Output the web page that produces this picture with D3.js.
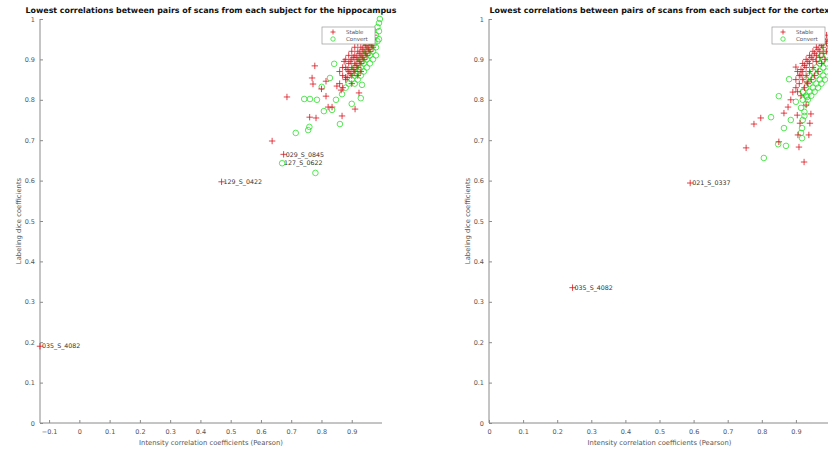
<!DOCTYPE html>
<html>
<head>
<meta charset="utf-8">
<script src="https://cdn.jsdelivr.net/npm/d3@7"></script>
<style>
  body { margin: 0; background: #fff; }
  svg { display: block; font-family: "DejaVu Sans", sans-serif; }
</style>
</head>
<body>
<svg id="fig" width="828" height="450"></svg>
<script>
// # DATA

var yTicks = [0, 0.1, 0.2, 0.3, 0.4, 0.5, 0.6, 0.7, 0.8, 0.9, 1];
var hippoXTicks = [-0.1, 0, 0.1, 0.2, 0.3, 0.4, 0.5, 0.6, 0.7, 0.8, 0.9];
var cortexXTicks = [0, 0.1, 0.2, 0.3, 0.4, 0.5, 0.6, 0.7, 0.8, 0.9];
var legendNames = ["Stable", "Convert"];

// hippocampus: [intensity corr, dice]
var hippoStable = [
  [-0.13, 0.19], [0.47, 0.597], [0.675, 0.665],
  [0.637, 0.698], [0.686, 0.807], [0.778, 0.884], [0.769, 0.854], [0.772, 0.839],
  [0.761, 0.757], [0.782, 0.755], [0.815, 0.846], [0.815, 0.809], [0.822, 0.782],
  [0.865, 0.824], [0.868, 0.76], [0.88, 0.856], [0.911, 0.777], [0.924, 0.817],
  [0.851, 0.834], [0.8, 0.827], [0.835, 0.782],
  [0.87, 0.86], [0.88, 0.88], [0.88, 0.85], [0.89, 0.87], [0.89, 0.89], [0.9, 0.88],
  [0.9, 0.9], [0.9, 0.86], [0.91, 0.89], [0.91, 0.91], [0.91, 0.87], [0.92, 0.9],
  [0.92, 0.92], [0.92, 0.88], [0.93, 0.91], [0.93, 0.93], [0.93, 0.89], [0.94, 0.92],
  [0.94, 0.94], [0.94, 0.9], [0.95, 0.93], [0.95, 0.91], [0.95, 0.95], [0.96, 0.94],
  [0.96, 0.92], [0.97, 0.95], [0.97, 0.93], [0.88, 0.9], [0.89, 0.91], [0.9, 0.92],
  [0.91, 0.93], [0.92, 0.94], [0.93, 0.95], [0.87, 0.88], [0.86, 0.87], [0.875, 0.895],
  [0.885, 0.875], [0.895, 0.895], [0.905, 0.875], [0.915, 0.905], [0.925, 0.915],
  [0.935, 0.925], [0.945, 0.935], [0.955, 0.945], [0.965, 0.935], [0.925, 0.895],
  [0.935, 0.905], [0.945, 0.915], [0.905, 0.905], [0.915, 0.885], [0.895, 0.865],
  [0.885, 0.855], [0.955, 0.925], [0.965, 0.955], [0.975, 0.96], [0.94, 0.96],
  [0.95, 0.97], [0.92, 0.86], [0.93, 0.87], [0.9, 0.84], [0.86, 0.84], [0.87, 0.83]
];
var hippoConvert = [
  [0.67, 0.643], [0.78, 0.619], [0.715, 0.718], [0.756, 0.725], [0.76, 0.733],
  [0.743, 0.802], [0.762, 0.802], [0.785, 0.8], [0.801, 0.832], [0.842, 0.889],
  [0.848, 0.8], [0.835, 0.775], [0.861, 0.74], [0.868, 0.814], [0.9, 0.79],
  [0.93, 0.804], [0.934, 0.837], [0.808, 0.772], [0.828, 0.854], [0.993, 1.0],
  [0.91, 0.86], [0.92, 0.87], [0.93, 0.88], [0.94, 0.89], [0.95, 0.9], [0.96, 0.91],
  [0.97, 0.92], [0.98, 0.93], [0.99, 0.95], [0.98, 0.96], [0.99, 0.97], [0.97, 0.95],
  [0.96, 0.93], [0.95, 0.92], [0.94, 0.91], [0.93, 0.9], [0.92, 0.89], [0.91, 0.88],
  [0.9, 0.87], [0.9, 0.85], [0.92, 0.85], [0.93, 0.86], [0.94, 0.87], [0.95, 0.88],
  [0.96, 0.89], [0.97, 0.9], [0.98, 0.91], [0.975, 0.94], [0.985, 0.945], [0.965, 0.925],
  [0.955, 0.915], [0.945, 0.905], [0.935, 0.895], [0.925, 0.875], [0.915, 0.865],
  [0.985, 0.98], [0.99, 0.99], [0.97, 0.97], [0.96, 0.96], [0.95, 0.94], [0.89, 0.84],
  [0.88, 0.83], [0.91, 0.84]
];
var hippoNames = [
  ["035_S_4082", -0.13, 0.19], ["129_S_0422", 0.47, 0.597],
  ["029_S_0845", 0.675, 0.665], ["127_S_0622", 0.67, 0.643]
];

// cortex
var cortexStable = [
  [0.245, 0.335], [0.59, 0.594],
  [0.754, 0.681], [0.777, 0.74], [0.797, 0.755], [0.85, 0.696], [0.924, 0.646],
  [0.904, 0.762], [0.912, 0.742], [0.938, 0.713], [0.941, 0.742], [0.944, 0.765],
  [0.909, 0.683], [0.906, 0.713], [0.865, 0.767], [0.877, 0.782], [0.885, 0.8],
  [0.9, 0.881], [0.891, 0.819], [0.93, 0.787], [0.933, 0.844], [0.915, 0.861],
  [0.91, 0.86], [0.92, 0.87], [0.92, 0.89], [0.93, 0.88], [0.93, 0.9], [0.94, 0.89],
  [0.94, 0.91], [0.95, 0.9], [0.95, 0.92], [0.96, 0.91], [0.96, 0.93], [0.97, 0.92],
  [0.97, 0.94], [0.98, 0.93], [0.98, 0.95], [0.99, 0.94], [0.99, 0.96], [0.9, 0.85],
  [0.905, 0.87], [0.915, 0.875], [0.925, 0.885], [0.935, 0.895], [0.945, 0.905],
  [0.955, 0.915], [0.965, 0.925], [0.975, 0.935], [0.985, 0.945], [0.9, 0.83],
  [0.91, 0.84], [0.92, 0.85], [0.93, 0.86], [0.94, 0.87], [0.95, 0.88], [0.96, 0.895],
  [0.97, 0.905], [0.98, 0.915], [0.905, 0.82], [0.915, 0.81], [0.925, 0.83],
  [0.935, 0.84], [0.945, 0.85], [0.955, 0.86], [0.965, 0.87], [0.975, 0.89],
  [0.985, 0.9], [0.99, 0.92], [0.995, 0.95]
];
var cortexConvert = [
  [0.806, 0.656], [0.848, 0.69], [0.871, 0.686], [0.865, 0.73], [0.827, 0.757],
  [0.85, 0.809], [0.88, 0.851], [0.885, 0.75], [0.918, 0.73], [0.918, 0.705],
  [0.915, 0.718], [0.921, 0.819], [0.9, 0.795], [0.933, 0.807],
  [0.92, 0.8], [0.93, 0.81], [0.93, 0.83], [0.94, 0.82], [0.94, 0.84], [0.95, 0.83],
  [0.95, 0.85], [0.96, 0.84], [0.96, 0.86], [0.97, 0.85], [0.97, 0.87], [0.98, 0.86],
  [0.98, 0.88], [0.99, 0.87], [0.99, 0.89], [0.925, 0.77], [0.93, 0.79], [0.935, 0.8],
  [0.945, 0.81], [0.955, 0.82], [0.965, 0.83], [0.975, 0.84], [0.985, 0.85],
  [0.95, 0.87], [0.96, 0.88], [0.97, 0.89], [0.98, 0.9], [0.99, 0.91], [0.94, 0.86],
  [0.93, 0.85], [0.92, 0.82], [0.915, 0.78], [0.92, 0.75], [0.925, 0.76], [0.985, 0.93],
  [0.995, 0.94], [0.975, 0.91], [0.965, 0.9]
];
var cortexNames = [
  ["035_S_4082", 0.245, 0.335], ["021_S_0337", 0.59, 0.594]
];

// # LAYOUT
var stableColor = "#d8141e";
var convertColor = "#2fe02f";
var axisColor = "#8a8a8a";
var textColor = "#555";

var svg = d3.select("#fig");

drawPanel({
  left: 40, right: 382, top: 19, bottom: 423,
  xDomain: [-0.13, 1], xTicks: hippoXTicks,
  title: "Lowest correlations between pairs of scans from each subject for the hippocampus",
  stable: hippoStable, convert: hippoConvert, names: hippoNames,
  legendX: 322
});

drawPanel({
  left: 489, right: 830, top: 19, bottom: 423,
  xDomain: [0, 1], xTicks: cortexXTicks,
  title: "Lowest correlations between pairs of scans from each subject for the cortex",
  stable: cortexStable, convert: cortexConvert, names: cortexNames,
  legendX: 772
});

// # FUNCTIONS

function drawPanel(p){
  var x = d3.scaleLinear().domain(p.xDomain).range([p.left, p.right]);
  var y = d3.scaleLinear().domain([0, 1]).range([p.bottom, p.top]);
  var g = svg.append("g");

  // axes (ticks pointing inward, MATLAB style)
  var yAxis = d3.axisLeft(y).tickValues(yTicks).tickSize(-3).tickPadding(5)
    .tickFormat(function(d){ return d3.format("~g")(d); });
  var xAxis = d3.axisBottom(x).tickValues(p.xTicks).tickSize(-3).tickPadding(6)
    .tickFormat(function(d){ return d3.format("~g")(d); });

  var ya = g.append("g").attr("transform", "translate(" + p.left + ",0)").call(yAxis);
  var xa = g.append("g").attr("transform", "translate(0," + p.bottom + ")").call(xAxis);
  [ya, xa].forEach(function(a){
    a.select(".domain").attr("stroke", axisColor);
    a.selectAll(".tick line").attr("stroke", axisColor);
    a.selectAll(".tick text").attr("fill", textColor).attr("font-size", 6.5)
      .attr("font-family", "DejaVu Sans, sans-serif");
  });
  xa.select(".domain").attr("d", "M" + p.left + ",0H" + p.right);
  ya.select(".domain").attr("d", "M0," + p.top + "V" + p.bottom);
  xa.selectAll(".tick text").attr("dy", "0.71em");

  // titles and labels
  var cx = (p.left + p.right) / 2;
  g.append("text").attr("x", cx).attr("y", 13).attr("text-anchor", "middle")
    .attr("font-size", 7.9).attr("font-weight", "bold").attr("fill", "#111")
    .text(p.title);
  g.append("text").attr("x", cx).attr("y", p.bottom + 22).attr("text-anchor", "middle")
    .attr("font-size", 6.8).attr("fill", textColor)
    .text("Intensity correlation coefficients (Pearson)");
  g.append("text")
    .attr("transform", "translate(" + (p.left - 19) + "," + ((p.top + p.bottom) / 2) + ") rotate(-90)")
    .attr("text-anchor", "middle").attr("font-size", 6.8).attr("fill", textColor)
    .text("Labeling dice coefficients");

  // convert: green circles
  g.append("g").selectAll("circle").data(p.convert).join("circle")
    .attr("cx", function(d){ return x(d[0]); })
    .attr("cy", function(d){ return y(d[1]); })
    .attr("r", 2.8)
    .attr("fill", "none")
    .attr("stroke", convertColor)
    .attr("stroke-width", 0.8);

  // stable: red plus
  g.append("g").selectAll("path").data(p.stable).join("path")
    .attr("d", function(d){ return plusPath(x(d[0]), y(d[1]), 3.2); })
    .attr("stroke", stableColor)
    .attr("stroke-width", 0.8)
    .attr("fill", "none");

  // subject labels
  g.append("g").selectAll("text").data(p.names).join("text")
    .attr("x", function(d){ return x(d[1]) + 2; })
    .attr("y", function(d){ return y(d[2]); })
    .attr("dy", "0.35em")
    .attr("font-size", 6.3)
    .attr("fill", "#333")
    .text(function(d){ return d[0]; });

  // legend
  var lg = g.append("g").attr("transform", "translate(" + p.legendX + ",27)");
  lg.append("rect").attr("width", 53).attr("height", 17)
    .attr("fill", "#fff").attr("stroke", "#999").attr("stroke-width", 0.7);
  lg.append("path").attr("d", plusPath(11, 5, 2.5))
    .attr("stroke", stableColor).attr("stroke-width", 0.8);
  lg.append("circle").attr("cx", 11).attr("cy", 12).attr("r", 2.2)
    .attr("fill", "none").attr("stroke", convertColor).attr("stroke-width", 0.8);
  lg.selectAll("text.lt").data(legendNames).join("text")
    .attr("class", "lt")
    .attr("x", 24)
    .attr("y", function(d, i){ return 5 + i * 7; })
    .attr("dy", "0.35em")
    .attr("font-size", 5.5)
    .attr("fill", textColor)
    .text(function(d){ return d; });
  return 0;
}

function plusPath(cx, cy, r){
  return "M" + (cx - r) + "," + cy + "H" + (cx + r) + "M" + cx + "," + (cy - r) + "V" + (cy + r);
}
</script>
</body>
</html>
